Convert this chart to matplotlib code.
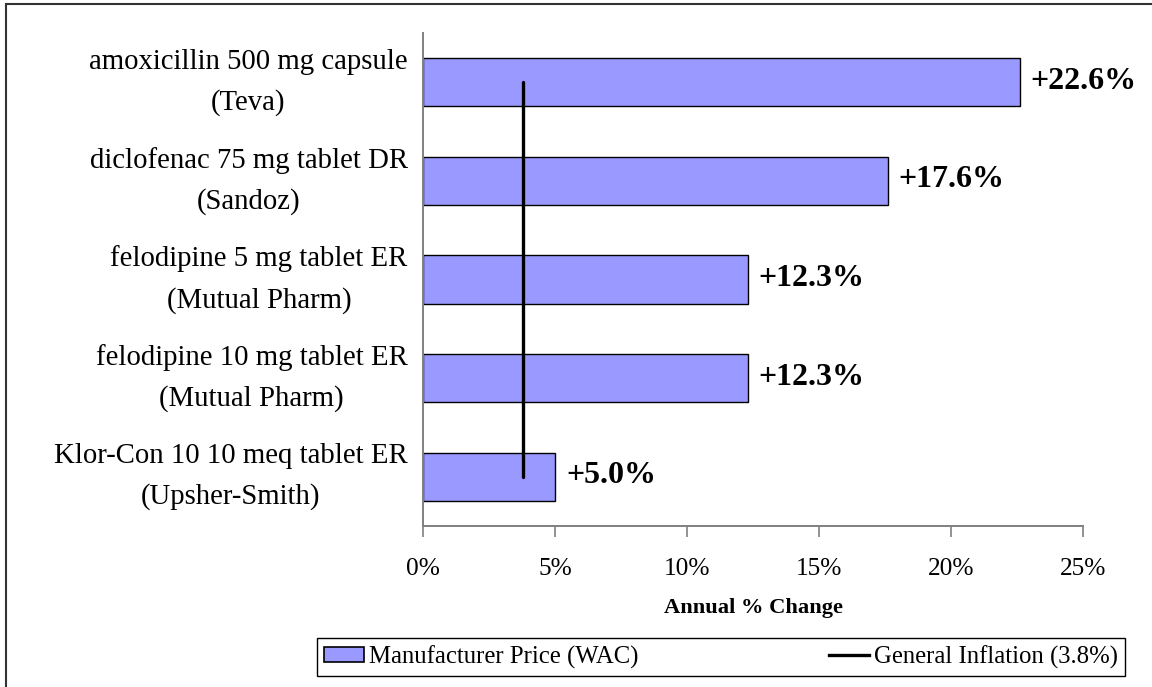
import numpy as np
import matplotlib.pyplot as plt
from matplotlib.patches import Rectangle, Patch
from matplotlib.lines import Line2D
from matplotlib.ticker import FuncFormatter

# Chart data
DRUGS = [
    'amoxicillin 500 mg capsule',
    'diclofenac 75 mg tablet DR',
    'felodipine 5 mg tablet ER',
    'felodipine 10 mg tablet ER',
    'Klor-Con 10 10 meq tablet ER',
]
MAKERS = ['Teva', 'Sandoz', 'Mutual Pharm', 'Mutual Pharm', 'Upsher-Smith']
PCT_CHANGE = [22.6, 17.6, 12.3, 12.3, 5.0]
INFLATION = 3.8
X_TICKS = [0, 5, 10, 15, 20, 25]

BAR_COLOR = '#9999FF'
AXIS_GRAY = '#808080'


def main():
    plt.rcParams['font.family'] = ['Liberation Serif', 'DejaVu Serif']

    fig = plt.figure(figsize=(11.52, 6.87), dpi=100)
    ax = fig.add_axes([423 / 1152, 1 - 526 / 687, 660 / 1152, 493 / 687])

    y = np.arange(len(DRUGS))
    labels = [f'{d}\n({m})' for d, m in zip(DRUGS, MAKERS)]

    # bars
    ax.barh(y, PCT_CHANGE, height=0.49, color=BAR_COLOR,
            edgecolor='black', linewidth=1.0, zorder=2)

    # general inflation marker line
    ax.plot([INFLATION, INFLATION], [y[0], y[-1]], color='black',
            linewidth=2.4, solid_capstyle='round', zorder=3)

    # value labels
    for yi, v in zip(y, PCT_CHANGE):
        ax.annotate(f'+{v:.1f}%', xy=(v, yi), xytext=(11, 1),
                    textcoords='offset pixels', ha='left', va='center',
                    fontsize=23, fontweight='bold')

    ax.set_ylim(len(DRUGS) - 0.5, -0.5)
    ax.set_yticks(y)
    ax.set_yticklabels(labels, fontsize=20.7, multialignment='center',
                       linespacing=1.7, va='center')
    ax.tick_params(axis='y', length=0, pad=11)

    ax.set_xlim(X_TICKS[0], X_TICKS[-1])
    ax.set_xticks(X_TICKS)
    ax.xaxis.set_major_formatter(FuncFormatter(lambda v, p: f'{v:.0f}%'))
    ax.tick_params(axis='x', direction='out', length=8, width=1.2,
                   color=AXIS_GRAY, labelsize=18.3, pad=15)
    ax.set_xlabel('Annual % Change', fontsize=16.2, fontweight='bold',
                  labelpad=13)

    for side in ['top', 'right']:
        ax.spines[side].set_visible(False)
    for side in ['left', 'bottom']:
        ax.spines[side].set_color(AXIS_GRAY)
        ax.spines[side].set_linewidth(1.4)

    # legend
    handles = [
        Patch(facecolor=BAR_COLOR, edgecolor='black', linewidth=1.2),
        Line2D([], [], color='black', linewidth=2.4),
    ]
    leg = fig.legend(handles,
                     ['Manufacturer Price (WAC)',
                      f'General Inflation ({INFLATION}%)'],
                     loc='lower left', mode='expand', ncol=2,
                     bbox_to_anchor=(317 / 1152, 1 - 676 / 687,
                                     808 / 1152, 44 / 687),
                     fontsize=17.8, frameon=True, fancybox=False,
                     edgecolor='black', framealpha=1,
                     handlelength=1.6, handleheight=0.6,
                     handletextpad=0.2, borderpad=0.3, borderaxespad=0)
    leg.get_frame().set_linewidth(1.0)

    # outer chart border (left and top edges visible)
    fig.add_artist(Rectangle((6 / 1152, -0.05), 1.1, 1.05 - 4 / 687,
                             transform=fig.transFigure, fill=False,
                             edgecolor='#333333', linewidth=1.5))

    fig.savefig('out.png', dpi=100)


if __name__ == '__main__':
    main()
